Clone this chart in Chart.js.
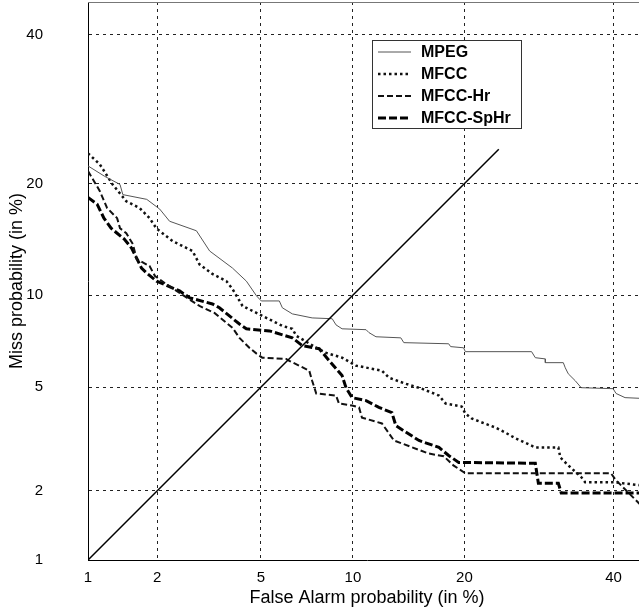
<!DOCTYPE html>
<html>
<head>
<meta charset="utf-8">
<title>DET curves</title>
<script src="https://cdn.jsdelivr.net/npm/chart.js@4.4.0/dist/chart.umd.min.js"></script>
<style>
  html, body { margin: 0; padding: 0; overflow: hidden; background: #fff; }
  #wrap { width: 648px; height: 614px; }
</style>
</head>
<body>
<div id="wrap"><canvas id="det"></canvas></div>
<script>
// axis ticks (both axes use the same normal-deviate scale, values in %)
var tickVals = [1, 2, 5, 10, 20, 40];
var tickLabels = ['1', '2', '5', '10', '20', '40'];
var axisMin = 1, axisMax = 45;

// MPEG
var mpegFA = [1.0, 1.19, 1.39, 1.43, 1.81, 2.05, 2.25, 2.88, 3.24, 3.95, 4.44, 4.83, 5.02, 5.80, 5.94, 6.42, 7.46, 8.64, 8.88, 9.27, 10.94, 11.16, 11.69, 13.73, 13.99, 18.30, 18.51, 19.9, 20.1, 28.2, 28.7, 30.06, 30.06, 32.57, 32.85, 33.28, 34.28, 35.15, 39.92, 40.37, 41.75, 45.3];
var mpegMiss = [22.0, 20.8, 19.9, 18.8, 18.3, 17.3, 16.1, 15.2, 13.4, 12.0, 11.0, 9.94, 9.6, 9.6, 9.15, 8.76, 8.51, 8.46, 8.09, 7.86, 7.81, 7.64, 7.41, 7.35, 7.09, 7.03, 6.88, 6.82, 6.62, 6.62, 6.32, 6.26, 6.08, 6.08, 5.84, 5.57, 5.27, 4.98, 4.94, 4.75, 4.59, 4.55];

// MFCC
var mfccFA = [1.0, 1.13, 1.29, 1.48, 1.69, 1.86, 1.99, 2.32, 2.78, 2.96, 3.32, 3.75, 3.95, 4.30, 5.06, 5.94, 6.42, 6.62, 7.14, 7.69, 8.27, 9.27, 10.21, 12.16, 12.72, 14.17, 15.62, 17.3, 17.99, 19.69, 20.1, 20.8, 23.6, 24.8, 26.1, 28.7, 31.87, 32.15, 33.28, 35.15, 35.73, 40.22, 45.3];
var mfccMiss = [23.5, 22.2, 19.9, 18.1, 17.4, 16.4, 15.4, 14.25, 13.4, 12.3, 11.54, 11.0, 10.43, 9.27, 8.64, 8.03, 7.86, 7.46, 7.14, 6.82, 6.56, 6.32, 5.94, 5.71, 5.40, 5.14, 4.94, 4.67, 4.37, 4.26, 4.02, 3.85, 3.56, 3.41, 3.24, 2.99, 2.99, 2.73, 2.54, 2.28, 2.17, 2.17, 2.09];

// MFCC-Hr
var hrFA = [1.0, 1.13, 1.22, 1.35, 1.39, 1.48, 1.58, 1.64, 1.86, 1.96, 2.15, 2.47, 2.96, 3.38, 3.95, 4.19, 4.55, 4.83, 5.06, 6.12, 6.27, 7.30, 7.46, 7.69, 8.88, 9.07, 9.94, 10.43, 10.64, 12.16, 13.14, 16.28, 17.8, 18.8, 20.1, 39.6, 40.37, 44.5];
var hrMiss = [21.4, 19.2, 17.4, 16.4, 15.44, 14.97, 14.0, 12.72, 12.16, 11.38, 10.86, 10.15, 9.27, 8.82, 7.92, 7.35, 6.82, 6.52, 6.32, 6.26, 6.17, 5.71, 5.27, 4.75, 4.67, 4.37, 4.30, 4.23, 3.88, 3.69, 3.18, 2.83, 2.76, 2.54, 2.36, 2.36, 2.21, 1.71];

// MFCC-SpHr
var sphrFA = [1.0, 1.10, 1.18, 1.27, 1.35, 1.45, 1.56, 1.64, 1.72, 1.81, 1.99, 2.47, 2.71, 3.32, 3.53, 4.19, 4.44, 5.36, 6.42, 6.93, 7.86, 8.46, 9.27, 9.53, 9.94, 10.94, 11.92, 12.97, 13.30, 15.36, 17.3, 18.3, 19.37, 28.7, 29.11, 31.87, 32.28, 45.3];
var sphrMiss = [18.5, 17.8, 16.4, 15.44, 14.97, 14.44, 13.65, 12.80, 12.0, 11.61, 11.0, 10.29, 9.81, 9.40, 9.15, 8.14, 7.86, 7.74, 7.35, 6.93, 6.77, 6.17, 5.49, 4.98, 4.59, 4.48, 4.23, 4.05, 3.62, 3.18, 2.99, 2.78, 2.61, 2.59, 2.15, 2.15, 1.96, 1.96];

// equal error diagonal
var diagFA = [1, 24];
var diagMiss = [1, 24];

// inverse normal cdf (Acklam)
function probit(p) {
  var a = [-3.969683028665376e+01, 2.209460984245205e+02, -2.759285104469687e+02, 1.383577518672690e+02, -3.066479806614716e+01, 2.506628277459239e+00];
  var b = [-5.447609879822406e+01, 1.615858368580409e+02, -1.556989798598866e+02, 6.680131188771972e+01, -1.328068155288572e+01];
  var c = [-7.784894002430293e-03, -3.223964580411365e-01, -2.400758277161838e+00, -2.549732539343734e+00, 4.374664141464968e+00, 2.938163982698783e+00];
  var d = [7.784695709041462e-03, 3.224671290700398e-01, 2.445134137142996e+00, 3.754408661907416e+00];
  var plow = 0.02425, q, r;
  if (p < plow) {
    q = Math.sqrt(-2 * Math.log(p));
    return (((((c[0]*q + c[1])*q + c[2])*q + c[3])*q + c[4])*q + c[5]) / ((((d[0]*q + d[1])*q + d[2])*q + d[3])*q + 1);
  }
  if (p > 1 - plow) {
    q = Math.sqrt(-2 * Math.log(1 - p));
    return -(((((c[0]*q + c[1])*q + c[2])*q + c[3])*q + c[4])*q + c[5]) / ((((d[0]*q + d[1])*q + d[2])*q + d[3])*q + 1);
  }
  q = p - 0.5; r = q * q;
  return (((((a[0]*r + a[1])*r + a[2])*r + a[3])*r + a[4])*r + a[5]) * q / (((((b[0]*r + b[1])*r + b[2])*r + b[3])*r + b[4])*r + 1);
}

function pts(fa, miss) {
  return fa.map(function(v, i) { return {x: probit(v / 100), y: probit(miss[i] / 100)}; });
}

var font = 'Liberation Sans, Arial, Helvetica, sans-serif';

function setTicks(scale) {
  scale.ticks = tickVals.map(function(v) { return {value: probit(v / 100)}; });
}

// top and right frame lines
var framePlugin = {
  id: 'frame',
  beforeDatasetsDraw: function(chart) {
    var a = chart.chartArea, ctx = chart.ctx;
    ctx.save();
    ctx.strokeStyle = '#777';
    ctx.lineWidth = 1;
    ctx.beginPath();
    ctx.moveTo(a.left, a.top + 0.5);
    ctx.lineTo(a.right, a.top + 0.5);
    ctx.moveTo(a.right - 0.5, a.top);
    ctx.lineTo(a.right - 0.5, a.bottom);
    ctx.stroke();
    ctx.restore();
  }
};

// boxed legend inside the plot
var legendBox = {left: 372, top: 40, right: 521, bottom: 128};
var legendPlugin = {
  id: 'boxLegend',
  afterDatasetsDraw: function(chart) {
    var ctx = chart.ctx, b = legendBox;
    var items = chart.data.datasets.filter(function(ds) { return ds.label; });
    ctx.save();
    ctx.fillStyle = '#fff';
    ctx.fillRect(b.left, b.top, b.right - b.left, b.bottom - b.top);
    ctx.strokeStyle = '#333';
    ctx.lineWidth = 1;
    ctx.strokeRect(b.left + 0.5, b.top + 0.5, b.right - b.left, b.bottom - b.top);
    var step = (b.bottom - b.top - 22) / (items.length - 1);
    items.forEach(function(ds, i) {
      var y = b.top + 12 + i * step;
      ctx.save();
      ctx.strokeStyle = ds.borderColor;
      ctx.lineWidth = ds.borderWidth;
      ctx.setLineDash(ds.borderDash || []);
      ctx.beginPath();
      ctx.moveTo(b.left + 6, y);
      ctx.lineTo(b.left + 39, y);
      ctx.stroke();
      ctx.restore();
      ctx.fillStyle = '#000';
      ctx.font = 'bold 16px ' + font;
      ctx.textBaseline = 'middle';
      ctx.fillText(ds.label, b.left + 49, y + 1);
    });
    ctx.restore();
  }
};

var ctx = document.getElementById('det').getContext('2d');
var chart = new Chart(ctx, {
  type: 'line',
  data: {
    datasets: [{
      data: pts(diagFA, diagMiss),
      borderColor: '#000',
      borderWidth: 1.5
    }, {
      label: 'MPEG',
      data: pts(mpegFA, mpegMiss),
      borderColor: '#555',
      borderWidth: 1
    }, {
      label: 'MFCC',
      data: pts(mfccFA, mfccMiss),
      borderColor: '#111',
      borderWidth: 2.5,
      borderDash: [2.5, 3]
    }, {
      label: 'MFCC-Hr',
      data: pts(hrFA, hrMiss),
      borderColor: '#111',
      borderWidth: 2,
      borderDash: [6, 3]
    }, {
      label: 'MFCC-SpHr',
      data: pts(sphrFA, sphrMiss),
      borderColor: '#000',
      borderWidth: 3,
      borderDash: [8, 3]
    }]
  },
  options: {
    responsive: true,
    maintainAspectRatio: false,
    animation: false,
    layout: { padding: {top: 2, right: 2, left: 0, bottom: 0} },
    elements: { point: { radius: 0 }, line: { tension: 0, fill: false } },
    plugins: { legend: { display: false }, tooltip: { enabled: false } },
    scales: {
      x: {
        type: 'linear',
        min: probit(axisMin / 100),
        max: probit(axisMax / 100),
        afterBuildTicks: setTicks,
        afterFit: function(s) { s.height = 54; },
        ticks: {
          autoSkip: false, maxRotation: 0, padding: 9, color: '#000',
          font: {family: font, size: 15},
          callback: function(v, i) { return tickLabels[i]; }
        },
        grid: { color: '#222', lineWidth: 1, drawTicks: false },
        border: { display: true, color: '#000', width: 1, dash: [3, 4] },
        title: {
          display: true, text: 'False Alarm probability (in %)', color: '#000',
          font: {family: font, size: 18}, padding: {top: 0, bottom: 5}
        }
      },
      y: {
        type: 'linear',
        min: probit(axisMin / 100),
        max: probit(axisMax / 100),
        afterBuildTicks: setTicks,
        afterFit: function(s) {
          s.width = 88;
          // large label gap should not push the plot down
          s.paddingTop = 0;
          s.paddingBottom = 0;
        },
        ticks: {
          autoSkip: false, padding: 45, color: '#000',
          font: {family: font, size: 15},
          callback: function(v, i) { return tickLabels[i]; }
        },
        grid: { color: '#222', lineWidth: 1, drawTicks: false },
        border: { display: true, color: '#000', width: 1, dash: [3, 4] },
        title: {
          display: true, text: 'Miss probability (in %)', color: '#000',
          font: {family: font, size: 18}, padding: {top: 6, bottom: 0}
        }
      }
    }
  },
  plugins: [framePlugin, legendPlugin]
});
</script>
</body>
</html>
